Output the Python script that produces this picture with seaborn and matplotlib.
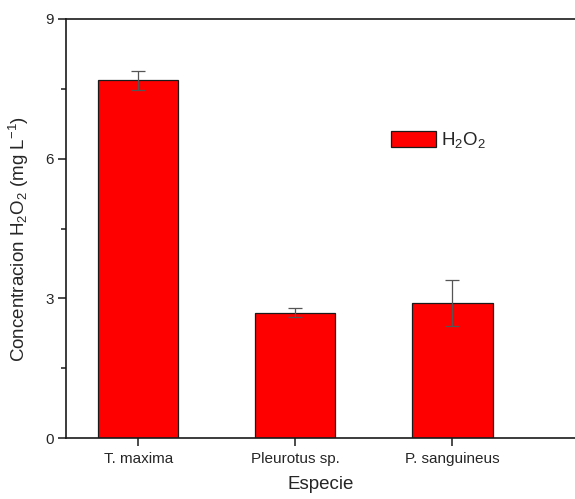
import matplotlib
matplotlib.use("Agg")
import matplotlib.pyplot as plt
from matplotlib.ticker import MultipleLocator
import seaborn as sns
import pandas as pd

# H2O2 concentration produced by each fungal species
species = ["T. maxima", "Pleurotus sp.", "P. sanguineus"]
h2o2_mean = [7.68, 2.69, 2.90]
h2o2_err = [0.20, 0.10, 0.50]

df = pd.DataFrame({"Especie": species, "H2O2": h2o2_mean})

sns.set_theme(style="white")
plt.rcParams["font.family"] = ["Liberation Sans", "DejaVu Sans"]
plt.rcParams["mathtext.fontset"] = "custom"
plt.rcParams["mathtext.rm"] = "Liberation Sans"
plt.rcParams["mathtext.it"] = "Liberation Sans:italic"

fig = plt.figure(figsize=(5.75, 4.99), dpi=100)
ax = fig.add_axes([0.115, 0.122, 0.885, 0.840])

sns.barplot(data=df, x="Especie", y="H2O2", color="#ff0000", width=0.51,
            edgecolor="#1a1a1a", linewidth=0.9, saturation=1,
            errorbar=None, ax=ax, label="H$_2$O$_2$")
ax.errorbar(x=range(len(species)), y=h2o2_mean, yerr=h2o2_err, fmt="none",
            ecolor="#555555", elinewidth=0.9, capsize=5, capthick=0.9)

ax.set_ylim(0, 9)
ax.set_xlim(-0.46, 2.78)
ax.yaxis.set_major_locator(MultipleLocator(3))
ax.yaxis.set_minor_locator(MultipleLocator(1.5))

for side in ["left", "bottom", "top"]:
    ax.spines[side].set_visible(True)
    ax.spines[side].set_color("#1a1a1a")
    ax.spines[side].set_linewidth(1.2)
ax.spines["right"].set_visible(False)

ax.tick_params(axis="y", which="major", direction="out", length=6, width=1.1,
               color="#1a1a1a", labelsize=11, left=True, pad=3)
ax.tick_params(axis="y", which="minor", direction="out", length=3.5, width=1.1,
               color="#1a1a1a", left=True)
ax.tick_params(axis="x", which="major", direction="out", length=6, width=1.1,
               color="#1a1a1a", labelsize=11, bottom=True, pad=4)

ax.set_xlabel("Especie", fontsize=13.5, labelpad=7)
ax.set_ylabel("Concentracion H$_2$O$_2$ (mg L$^{-1}$)", fontsize=13.5)
ax.yaxis.set_label_coords(-0.07, 0.475)

ax.legend(loc="upper left", bbox_to_anchor=(0.605, 0.775), frameon=False,
          fontsize=13.5, handlelength=2.4, handleheight=0.95, handletextpad=0.3)

fig.savefig("out.png", dpi=100)
